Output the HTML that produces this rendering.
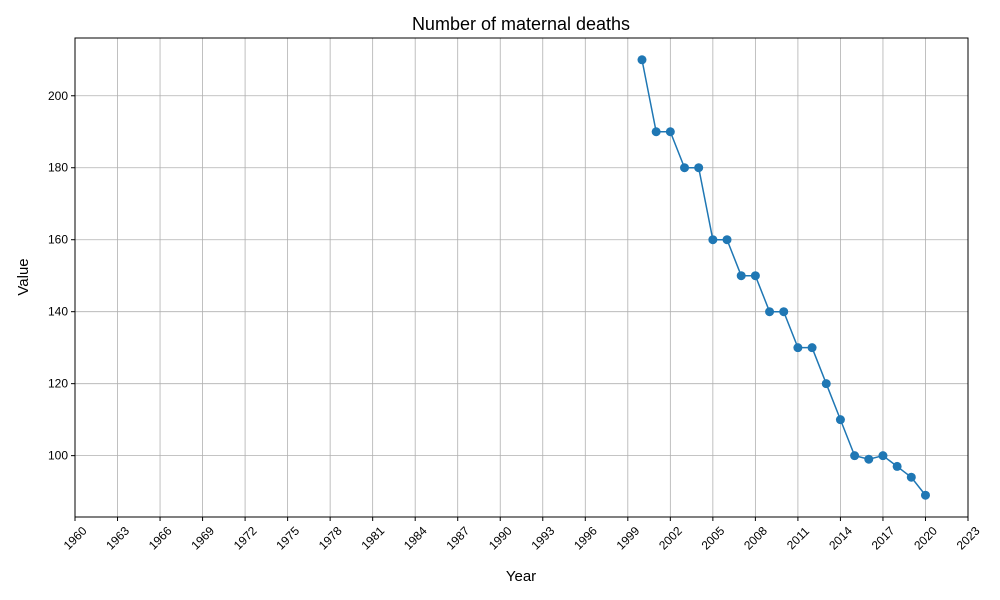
<!DOCTYPE html>
<html><head><meta charset="utf-8">
<style>
body{margin:0;background:#fff;}
svg{display:block;font-family:"Liberation Sans","DejaVu Sans",sans-serif;}
</style></head>
<body>
<svg id="chart" width="1000" height="600" viewBox="0 0 1000 600" xmlns="http://www.w3.org/2000/svg">
<rect width="1000" height="600" fill="#fff"/>
<text x="521" y="30" text-anchor="middle" font-size="18">Number of maternal deaths</text>
<g id="grid"></g>
<g id="xticks"></g>
<g id="yticks"></g>
<g id="series"></g>
<rect x="75" y="38" width="893" height="479" fill="none" stroke="#000" stroke-width="1"/>
<text x="521" y="581" text-anchor="middle" font-size="15">Year</text>
<text transform="translate(28,277) rotate(-90)" text-anchor="middle" font-size="15">Value</text>
</svg>
<script>
const years=[2000,2001,2002,2003,2004,2005,2006,2007,2008,2009,2010,2011,2012,2013,2014,2015,2016,2017,2018,2019,2020];
const values=[210,190,190,180,180,160,160,150,150,140,140,130,130,120,110,100,99,100,97,94,89];
const xTicks=[1960,1963,1966,1969,1972,1975,1978,1981,1984,1987,1990,1993,1996,1999,2002,2005,2008,2011,2014,2017,2020,2023];
const yTicks=[100,120,140,160,180,200];
const L=75,R=968,T=38,B=517,x0=1960,x1=2023,y0=82.95,y1=216.05;
const sx=v=>L+(v-x0)/(x1-x0)*(R-L);
const sy=v=>B-(v-y0)/(y1-y0)*(B-T);
const NS="http://www.w3.org/2000/svg";
function mk(t,a,p){const e=document.createElementNS(NS,t);for(const k in a)e.setAttribute(k,a[k]);p.appendChild(e);return e;}
const grid=document.getElementById('grid'),xt=document.getElementById('xticks'),yt=document.getElementById('yticks'),se=document.getElementById('series');
xTicks.forEach(v=>{const x=sx(v);
const g=mk('line',{x1:x,x2:x,y1:T,y2:B,stroke:'#b0b0b0','stroke-width':0.8},grid);


mk('line',{x1:x,x2:x,y1:B,y2:B+4,stroke:'#000'},xt);
const t=mk('text',{transform:`translate(${x},${B+21}) rotate(-45)`,'text-anchor':'middle',dy:'0.35em','font-size':12},xt);
t.textContent=v;

});
yTicks.forEach(v=>{const y=sy(v);
const g=mk('line',{x1:L,x2:R,y1:y,y2:y,stroke:'#b0b0b0','stroke-width':0.8},grid);


mk('line',{x1:L-4,x2:L,y1:y,y2:y,stroke:'#000'},yt);
const t=mk('text',{x:L-7,y:y+4,'text-anchor':'end','font-size':12},yt);
t.textContent=v;

});
const pl=mk('polyline',{points:years.map((y,i)=>sx(y)+','+sy(values[i])).join(' '),fill:'none',stroke:'#1f77b4','stroke-width':1.5},se);


years.forEach((y,i)=>{const c=mk('circle',{cx:sx(y),cy:sy(values[i]),r:4.5,fill:'#1f77b4'},se);

});
</script>
</body></html>
